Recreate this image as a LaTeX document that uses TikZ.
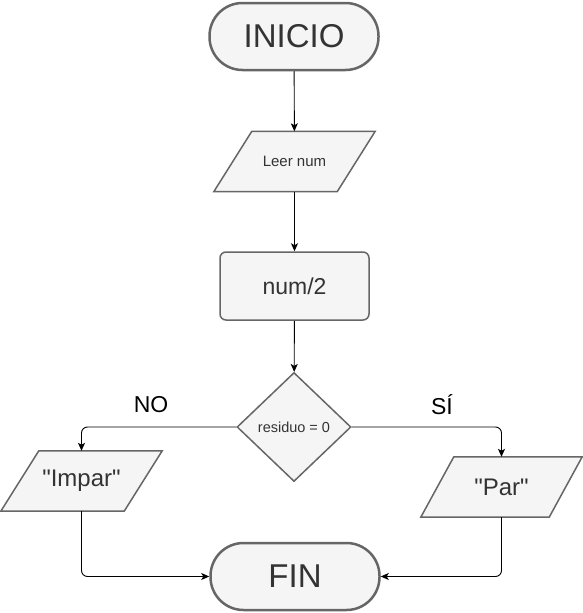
\documentclass[tikz,border=0pt]{standalone}
\usepackage{fontspec}
\setmainfont{Liberation Sans}
\usetikzlibrary{arrows.meta,shapes.geometric,backgrounds,calc}
\definecolor{fillg}{HTML}{F5F5F5}
\definecolor{strokeg}{HTML}{666666}
\definecolor{textg}{HTML}{333333}
\begin{document}
\begin{tikzpicture}[x=1pt,y=-1pt,
  terminal/.style={rectangle,rounded corners=33pt,draw=strokeg,fill=fillg,line width=2.5pt,
    minimum width=169pt,minimum height=67pt,text=textg,font=\fontsize{33}{38}\selectfont,inner sep=0pt},
  procbox/.style={rectangle,rounded corners=6pt,draw=strokeg,fill=fillg,line width=1.5pt,
    minimum width=149pt,minimum height=68pt,text=textg,font=\fontsize{23}{27}\selectfont,inner sep=0pt},
  iobox/.style={rectangle,minimum width=161pt,minimum height=60pt,inner sep=0pt,text=textg},
  iodraw/.style={draw=strokeg,fill=fillg,line width=1.5pt,line join=miter},
  decision/.style={diamond,draw=strokeg,fill=fillg,line width=1.5pt,minimum width=114pt,minimum height=109pt,
    inner sep=0pt,text=textg,font=\fontsize{14.5}{17}\selectfont},
  conn/.style={draw=black,line width=0.9pt,rounded corners=6pt,-{Stealth[length=8pt,width=7pt,inset=2pt]}},
  lbl/.style={text=black,font=\fontsize{23}{27}\selectfont,inner sep=0pt}
]
\useasboundingbox (0,0) rectangle (583,613);

\node[terminal] (inicio) at (294,36.5) {INICIO};
\node[iobox,font=\fontsize{15}{18}\selectfont] (leer) at (294.5,161.5) {Leer num};
\node[procbox] (num) at (294.5,286) {num/2};
\node[decision] (dec) at (294,427) {residuo = 0};
\node[iobox,font=\fontsize{24}{28}\selectfont] (impar) at (81.5,481) {\textquotedbl Impar\textquotedbl};
\node[iobox,font=\fontsize{24}{28}\selectfont] (par) at (501.5,487) {\textquotedbl Par\textquotedbl};
\node[terminal] (fin) at (295,576.5) {FIN};

\node[lbl] (no) at (151,405) {NO};
\node[lbl] (si) at (442,405) {SÍ};

\begin{scope}[on background layer]
  \draw[iodraw] ([xshift=38pt]leer.north west) -- (leer.north east) -- ([xshift=-38pt]leer.south east) -- (leer.south west) -- cycle;
  \draw[iodraw] ([xshift=38pt]impar.north west) -- (impar.north east) -- ([xshift=-38pt]impar.south east) -- (impar.south west) -- cycle;
  \draw[iodraw] ([xshift=33pt]par.north west) -- (par.north east) -- ([xshift=-33pt]par.south east) -- (par.south west) -- cycle;
\end{scope}

\draw[conn] (inicio) -- (leer);
\draw[conn] (leer) -- (num);
\draw[conn] (num) -- (dec);
\draw[conn] (dec.west) -| (impar.north);
\draw[conn] (dec.east) -| (par.north);
\draw[conn] (impar.south) |- (fin.west);
\draw[conn] (par.south) |- (fin.east);
\end{tikzpicture}
\end{document}
